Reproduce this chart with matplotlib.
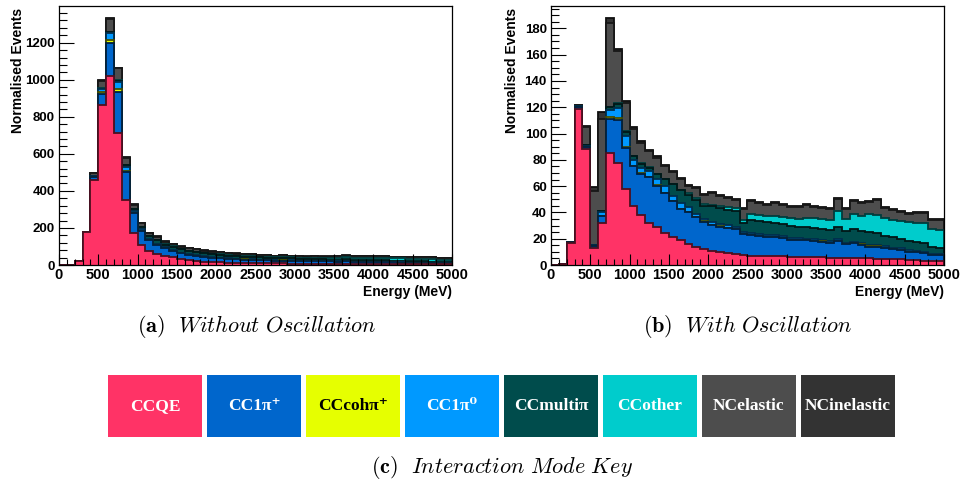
import numpy as np
import matplotlib.pyplot as plt
from matplotlib.colors import to_rgb
from matplotlib.patches import Rectangle
from matplotlib.ticker import MultipleLocator

# ---- energy binning (MeV) ----
e_min, e_max, e_step = 0, 5000, 100

# ---- interaction modes (stack order, bottom -> top) ----
mode_labels = ['CCQE', 'CC1π⁺', 'CCcohπ⁺', 'CC1π⁰', 'CCmultiπ', 'CCother',
               'NCelastic', 'NCinelastic']
mode_colors = ['#FF3366', '#0066CC', '#E6FF00', '#0099FF', '#004C4C',
               '#00CCCC', '#4D4D4D', '#333333']
key_text_colors = ['white', 'white', 'black', 'white', 'white', 'white',
                   'white', 'white']

# ---- (a) without oscillation, events per 100 MeV bin ----
ccqe_no = [0, 0, 22, 178, 459, 863, 1020, 714, 349, 174,
           108, 77, 59, 49, 41, 31, 25, 21, 18, 16,
           14, 13, 12, 11, 10.5, 9.8, 9.2, 8.6, 8.4, 8,
           7.5, 7.2, 7, 6.6, 6.5, 6.2, 6, 5.8, 5.6, 5.4,
           5.3, 5, 4.8, 4.5, 4.3, 4, 3.8, 3.6, 3, 2.9]
cc1pip_no = [0, 0, 0, 0, 16, 60, 180, 221, 155, 105,
             75, 58, 50, 41, 36, 32, 28, 28, 25, 23,
             22, 21, 19.5, 18.5, 18, 17, 16.5, 15.5, 15.8, 15,
             14, 13.5, 13.5, 13, 12.5, 12, 13, 11.5, 11.5, 11,
             10.5, 10, 9.5, 8.5, 8, 7, 7, 6.5, 5.5, 5.5]
cccoh_no = [0, 0, 0, 0, 1, 9, 14, 13, 4, 2,
            1, 1, 0.5, 0.5, 0.5, 0.4, 0.3, 0.3, 0.2, 0.2,
            0.2, 0.2, 0.2, 0.2, 0.2, 0.2, 0.2, 0.1, 0.1, 0.1,
            0.1, 0.1, 0.1, 0.1, 0.1, 0.1, 0.1, 0.1, 0.1, 0.1,
            0.1, 0.1, 0.1, 0.1, 0.1, 0.1, 0.1, 0.1, 0.1, 0.1]
cc1pi0_no = [0, 0, 0, 0, 3, 16, 36, 41, 23, 12,
             9, 7, 6, 5, 4.5, 4, 3.5, 3.5, 3, 3,
             2.8, 2.6, 2.5, 2.3, 2.2, 2.1, 2, 1.9, 1.9, 1.8,
             1.7, 1.6, 1.6, 1.5, 1.5, 1.4, 1.4, 1.3, 1.3, 1.2,
             1.2, 1.1, 1.1, 1, 1, 1, 0.9, 0.9, 0.8, 0.8]
ccmulti_no = [0, 0, 0, 0, 1, 4, 5, 6, 8, 8,
              11, 14, 19, 15, 16, 17, 18.5, 17.5, 16, 15,
              14.5, 14, 13, 12.5, 12, 11.5, 11, 10.5, 11, 10.5,
              9.5, 9, 9.5, 9, 9, 9, 10, 9, 9.5, 9,
              10, 9.5, 8.5, 8, 7.5, 7.5, 7.5, 7, 5.5, 5]
ccother_no = [0, 0, 0, 0, 0, 1, 1, 2, 2, 1,
              1, 1, 1.5, 1.5, 2, 2, 2.5, 2.5, 3, 3,
              3.5, 3.5, 4, 4, 4.5, 4.5, 5, 5, 5.5, 5.5,
              6, 6, 6.5, 7, 7.5, 8, 10, 9.5, 11, 11.5,
              13, 12.5, 12.5, 13, 13.5, 14, 14.5, 15, 14, 14]
ncel_no = [0, 0, 1, 2, 14, 42, 70, 64, 38, 23.5,
           20, 16, 17, 14, 13, 12.5, 12, 11, 13, 12,
           12.2, 11.7, 10.7, 10.2, 10.2, 9.7, 9.7, 8.7, 9.7, 8.7,
           8.2, 8.2, 8.7, 8.2, 8.7, 9.2, 10.2, 9.2, 9.7, 9.2,
           9.7, 9.2, 7.7, 7.7, 7.7, 7.2, 8.2, 8.7, 7.7, 7.7]
ncinel_no = [0, 0, 0, 0, 1, 3, 5, 4, 2, 1.5,
             1, 1, 1, 1, 1, 1, 1, 1, 1, 1,
             0.8, 0.8, 0.8, 0.8, 0.8, 0.8, 0.8, 0.8, 0.8, 0.8,
             0.8, 0.8, 0.8, 0.8, 0.8, 0.8, 0.8, 0.8, 0.8, 0.8,
             0.8, 0.8, 0.8, 0.8, 0.8, 0.8, 0.8, 0.8, 0.8, 0.8]

# ---- (b) with oscillation ----
ccqe_osc = [0, 1, 17, 119, 88.5, 13, 32, 85, 77.5, 57.7,
            44.5, 38, 32.3, 28.7, 24.2, 21.1, 19, 16, 13.5, 12.2,
            11, 10.2, 9, 8.5, 7.5, 7, 7.2, 6.8, 6.6, 6.5,
            6.4, 6.2, 6, 5.8, 6, 5.5, 5.6, 5.3, 5.4, 5.2,
            5.2, 4.8, 4.6, 4.3, 4.2, 3.8, 3.6, 3.4, 2.8, 2.7]
cc1pip_osc = [0, 0, 0.3, 1.5, 1, 1.5, 5, 26, 33, 31,
              30.5, 31.4, 34.6, 31.6, 30.5, 27.2, 23.5, 24.4, 22.8, 20.8,
              19.5, 19, 19.4, 18.7, 16, 15.5, 14.8, 14.7, 14.9, 14.1,
              12.6, 13, 12.7, 12.4, 11.8, 11.3, 12.7, 10.6, 11, 10.3,
              8.8, 9.2, 8.4, 7.7, 7.4, 6.3, 6.1, 5.8, 4.9, 5]
cccoh_osc = [0, 0, 0, 0, 0, 0, 0.3, 1.5, 1.2, 1,
             0.6, 0.5, 0.4, 0.3, 0.3, 0.3, 0.2, 0.2, 0.1, 0.1,
             0.1, 0.1, 0.1, 0.1, 0.1, 0.1, 0.1, 0.1, 0.1, 0.1,
             0.1, 0.1, 0.1, 0.1, 0.1, 0.1, 0.1, 0.1, 0.1, 0.1,
             0.1, 0.1, 0.1, 0.1, 0.1, 0.1, 0.1, 0.1, 0.1, 0.1]
cc1pi0_osc = [0, 0, 0, 0.3, 1, 0.5, 3, 5.5, 8, 8.4,
              4.5, 4, 4.3, 4.5, 4.8, 3.8, 4.5, 3.8, 2.5, 2,
              1.8, 1.8, 1.6, 1.8, 1.5, 1.5, 1.5, 1.5, 1.5, 1.4,
              1.5, 1.3, 1.3, 1.3, 1.2, 1.2, 1.2, 1.1, 1.1, 1,
              1, 1, 1, 1, 0.9, 0.9, 0.8, 0.8, 0.8, 0.8]
ccmulti_osc = [0, 0, 0, 0.2, 0.5, 0.3, 1, 2, 3, 3,
               2.5, 3, 2.5, 3.8, 5.3, 8.9, 9.6, 9.2, 10.7, 10,
               12.2, 12, 12, 12, 6.8, 10, 10, 9.5, 9, 9,
               9, 8.5, 9, 8.5, 8.5, 8.5, 9.5, 8.5, 9.5, 9,
               10, 9.5, 8, 8, 7, 7.5, 7, 6.5, 5, 4.5]
ccother_osc = [0, 0, 0, 0, 0, 0, 0, 0.5, 0.5, 0.5,
               0.5, 0.5, 0.5, 0.5, 0.5, 0.5, 0.6, 0.8, 1, 1,
               1, 1.5, 2, 2.5, 2.5, 4.5, 4.5, 4.5, 5.5, 5.5,
               6.1, 6, 7, 7.5, 7.5, 8, 12, 9.5, 12, 12,
               13.5, 13.5, 14, 13.5, 13.5, 14, 14.5, 15, 13.5, 13.7]
ncel_osc = [0, 0, 0.2, 1, 14, 40.7, 69.7, 63.5, 39.3, 21.9,
            20.7, 15.6, 12.1, 12.2, 9.7, 8.9, 7.7, 5.8, 8, 7.1,
            9.4, 7.8, 6.8, 6, 8.1, 9.8, 8.7, 8.7, 9.7, 9,
            8.6, 9.2, 9.7, 8.7, 8.2, 7.9, 9, 7.7, 9.3, 9.2,
            9.2, 11.2, 7.2, 7.2, 7.4, 6.1, 7.6, 8.1, 7, 7.3]
ncinel_osc = [0, 0, 0, 0, 1, 3, 5, 4, 2, 1.5,
              1, 1, 1, 1, 1, 1, 1, 1, 1, 1,
              0.8, 0.8, 0.8, 0.8, 0.8, 0.8, 0.8, 0.8, 0.8, 0.8,
              0.8, 0.8, 0.8, 0.8, 0.8, 0.8, 0.8, 0.8, 0.8, 0.8,
              0.8, 0.8, 0.8, 0.8, 0.8, 0.8, 0.8, 0.8, 0.8, 0.8]

stack_no = [ccqe_no, cc1pip_no, cccoh_no, cc1pi0_no, ccmulti_no, ccother_no,
            ncel_no, ncinel_no]
stack_osc = [ccqe_osc, cc1pip_osc, cccoh_osc, cc1pi0_osc, ccmulti_osc,
             ccother_osc, ncel_osc, ncinel_osc]

W, H = 962, 486
SANS = ['Liberation Sans', 'DejaVu Sans']


def darker(c, f=0.3):
    r, g, b = to_rgb(c)
    return (r * f, g * f, b * f)


def draw_stack(ax, layers, ymax, major, minor):
    edges = np.arange(e_min, e_max + e_step, e_step)
    cum = np.cumsum(np.array(layers, dtype=float), axis=0)
    # THStack style: draw cumulative histograms from the top one down
    for k in range(len(layers) - 1, -1, -1):
        ax.stairs(cum[k], edges, fill=True, color=mode_colors[k], baseline=0)
        ax.stairs(cum[k], edges, color=darker(mode_colors[k]), lw=1.3,
                  baseline=0)
    ax.set_xlim(e_min, e_max)
    ax.set_ylim(0, ymax)
    ax.xaxis.set_major_locator(MultipleLocator(500))
    ax.xaxis.set_minor_locator(MultipleLocator(100))
    ax.yaxis.set_major_locator(MultipleLocator(major))
    ax.yaxis.set_minor_locator(MultipleLocator(minor))
    ax.tick_params(which='both', direction='in', top=False, right=False,
                   width=0.8, color='black')
    ax.tick_params(axis='x', which='major', length=8, pad=2, labelsize=10.5)
    ax.tick_params(axis='x', which='minor', length=4)
    ax.tick_params(axis='y', which='major', length=11, pad=3, labelsize=9.5)
    ax.tick_params(axis='y', which='minor', length=5.5)
    for lab in ax.get_xticklabels() + ax.get_yticklabels():
        lab.set_fontweight('bold')
        lab.set_family(SANS)
    for sp in ax.spines.values():
        sp.set_linewidth(0.9)
    ax.set_facecolor('white')


fig = plt.figure(figsize=(W / 100, H / 100), dpi=100)

ax_a = fig.add_axes([59 / W, 1 - 265 / H, 393 / W, 259 / H])
draw_stack(ax_a, stack_no, 1398, 200, 40)
ax_b = fig.add_axes([551 / W, 1 - 265 / H, 393 / W, 259 / H])
draw_stack(ax_b, stack_osc, 197, 20, 5)

for x_lab, x_end in [(18, 452), (512, 944)]:
    fig.text(x_lab / W, 1 - 8 / H, 'Normalised Events', rotation=90,
             ha='center', va='top', fontsize=10, fontweight='bold', family=SANS)
    fig.text(x_end / W, 1 - 296 / H, 'Energy (MeV)', ha='right', va='baseline',
             fontsize=10, fontweight='bold', family=SANS)

# sub-captions
cap_kw = dict(ha='center', va='center', fontsize=16, math_fontfamily='cm')
fig.text(257 / W, 1 - 327 / H,
         r'$\mathbf{(a)}\ \ \mathit{Without\ Oscillation}$', **cap_kw)
fig.text(748 / W, 1 - 327 / H,
         r'$\mathbf{(b)}\ \ \mathit{With\ Oscillation}$', **cap_kw)
fig.text(502 / W, 1 - 467 / H,
         r'$\mathbf{(c)}\ \ \mathit{Interaction\ Mode\ Key}$', **cap_kw)

# interaction mode key
for i, (lab, col, tcol) in enumerate(zip(mode_labels, mode_colors, key_text_colors)):
    x0 = 108 + 99 * i
    fig.patches.append(Rectangle((x0 / W, 1 - 437 / H), 94 / W, 62 / H,
                                 transform=fig.transFigure, facecolor=col,
                                 edgecolor='none'))
    fig.text((x0 + 47) / W, 1 - 406 / H, lab, ha='center', va='center',
             color=tcol, fontsize=12.5, fontweight='bold',
             family=['Liberation Serif', 'DejaVu Serif'])

fig.savefig('out.png', dpi=100, facecolor='white')
